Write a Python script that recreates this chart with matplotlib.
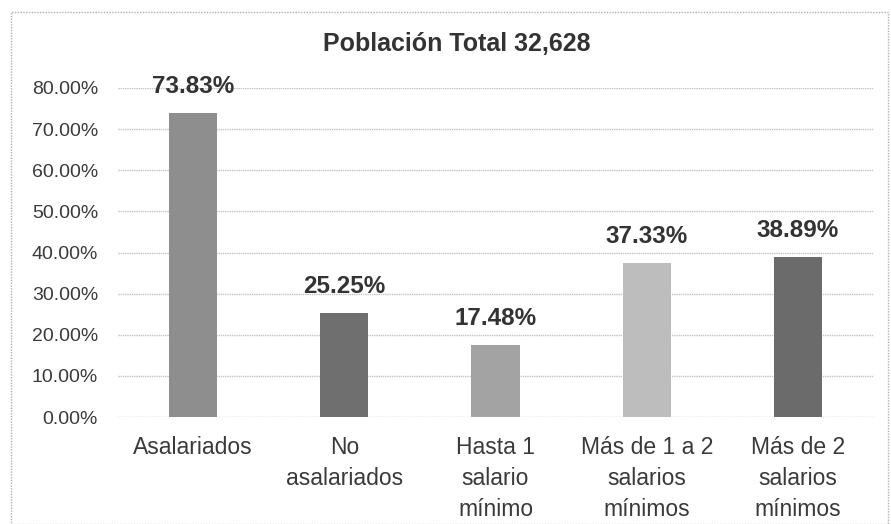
import matplotlib
matplotlib.use("Agg")
import matplotlib.pyplot as plt
from matplotlib.patches import Rectangle

plt.rcParams['font.family'] = ['Liberation Sans', 'DejaVu Sans']

categories = ["Asalariados", "No\nasalariados", "Hasta 1\nsalario\nmínimo",
              "Más de 1 a 2\nsalarios\nmínimos", "Más de 2\nsalarios\nmínimos"]
values = [73.83, 25.25, 17.48, 37.33, 38.89]
value_labels = ["73.83%", "25.25%", "17.48%", "37.33%", "38.89%"]
yticks = [0, 10, 20, 30, 40, 50, 60, 70, 80]
ytick_labels = ["0.00%", "10.00%", "20.00%", "30.00%", "40.00%", "50.00%", "60.00%", "70.00%", "80.00%"]
title = "Población Total 32,628"
colors = ["#8e8e8e", "#6f6f6f", "#a3a3a3", "#bdbdbd", "#6b6b6b"]

W, H = 891, 524
fig = plt.figure(figsize=(W / 100, H / 100), dpi=100)
ax = fig.add_axes([117.5 / W, 1 - 417 / H, (873.5 - 117.5) / W, (417 - 88) / H])

x = list(range(len(categories)))
ax.bar(x, values, width=0.32, color=colors, zorder=3)
ax.set_xlim(-0.5, len(categories) - 0.5)
ax.set_ylim(0, 80)
ax.set_yticks(yticks)
ax.set_yticklabels(ytick_labels, fontsize=14, color="#3a3a3a")
ax.set_xticks(x)
ax.set_xticklabels(categories, fontsize=16.5, color="#3a3a3a", linespacing=1.42)
ax.tick_params(axis="both", length=0)
ax.tick_params(axis="y", pad=14)
ax.tick_params(axis="x", pad=14)
ax.yaxis.grid(True, color="#c4c4c4", linewidth=1, linestyle=(0, (1, 0.6)), zorder=0)
for s in ax.spines.values():
    s.set_visible(False)

for xi, v, lab in zip(x, values, value_labels):
    ax.annotate(lab, (xi, v), xytext=(0, 11), textcoords="offset points",
                ha="center", va="bottom", fontsize=17.5, fontweight="bold", color="#333333")

fig.text(457 / W, 1 - 44 / H, title, ha="center", va="center", fontsize=18,
         fontweight="bold", color="#333333")

fig.patches.append(Rectangle((11 / W, 0), (888 - 11) / W, 1 - 12 / H,
                             transform=fig.transFigure, fill=False,
                             edgecolor="#b0b0b0", linewidth=1, linestyle=(0, (1, 1))))

fig.savefig("out.png", dpi=100)
